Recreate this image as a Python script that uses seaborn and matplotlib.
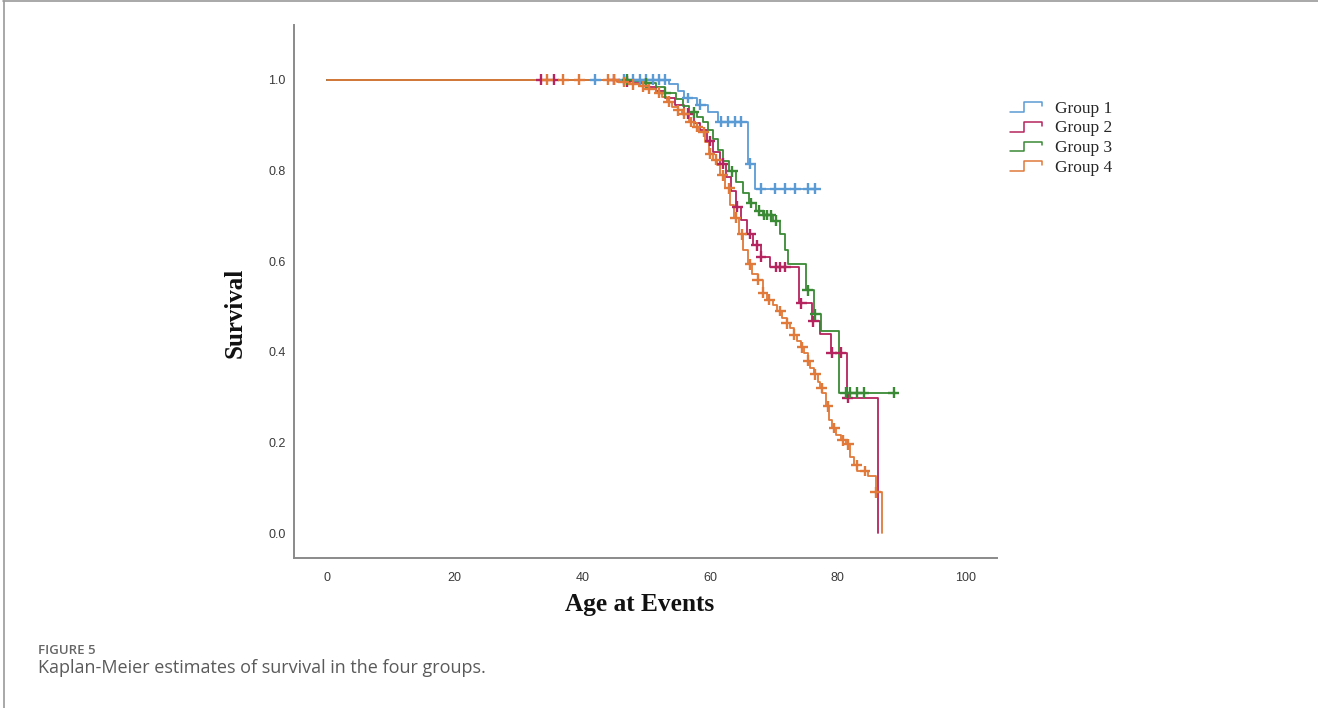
import numpy as np
import pandas as pd
import matplotlib
matplotlib.use('Agg')
import matplotlib.pyplot as plt
import seaborn as sns
from matplotlib.lines import Line2D
from matplotlib.legend_handler import HandlerBase

## curvas de Kaplan-Meier (idade no evento x sobrevivencia)

groups = ['Group 1', 'Group 2', 'Group 3', 'Group 4']
colors = ['#5b9bd5', '#b5245e', '#3a8a35', '#e0793a']

g1_t = [0, 53.5, 55, 56, 58, 59.7, 61.3, 66, 67.1]
g1_s = [1.0, 0.99, 0.975, 0.96, 0.945, 0.93, 0.908, 0.815, 0.76]
g1_end = 76.5
g1_cens = [42, 46.5, 48, 49, 50, 51, 52, 53, 56.5, 58.5, 61.7, 62.8, 63.9, 64.9,
           66.3, 68, 70.2, 71.8, 73.4, 75.4, 76.5]

g2_t = [0, 46, 48, 50, 51.5, 53, 54.5, 56, 57.5, 58.5, 59.5, 60.5, 61.5, 62.5,
        63.3, 64, 64.8, 65.8, 66.8, 68, 69.4, 73.9, 76, 77.2, 79, 81.4, 86.3]
g2_s = [1.0, 0.997, 0.993, 0.985, 0.975, 0.96, 0.945, 0.925, 0.905, 0.89, 0.865,
        0.84, 0.815, 0.785, 0.755, 0.72, 0.69, 0.66, 0.635, 0.61, 0.587, 0.507,
        0.467, 0.44, 0.398, 0.298, 0.0]
g2_end = 86.3
g2_cens = [33.5, 35.5, 45, 47, 56.5, 60, 62, 64.3, 66.3, 67.3, 68, 70.3, 71, 71.8,
           74.3, 76.2, 79.1, 80.5, 81.6]

g3_t = [0, 48, 50, 51.5, 53, 54.6, 55.7, 56.7, 58, 58.9, 59.7, 60.5, 61.3, 62, 63,
        64, 65.2, 66.1, 67.2, 68.3, 69.9, 70.9, 71.7, 72.3, 75, 76.3, 77.4, 80.2]
g3_s = [1.0, 0.997, 0.992, 0.985, 0.972, 0.957, 0.943, 0.928, 0.917, 0.907, 0.89,
        0.87, 0.845, 0.82, 0.798, 0.775, 0.75, 0.728, 0.711, 0.702, 0.689, 0.659,
        0.624, 0.593, 0.536, 0.483, 0.446, 0.31]
g3_end = 88.8
g3_cens = [47, 50, 53, 57.5, 63.5, 66.5, 67.7, 68.4, 69, 69.5, 70.3, 75.3, 76.5,
           81.3, 82, 83, 84.1, 88.8]

g4_t = [0, 45.5, 47.5, 49, 50.4, 51.5, 52.4, 53.2, 54, 55, 55.6, 56.7, 57.5, 58.3,
        59.2, 59.8, 60.5, 61.1, 61.6, 62.4, 63.2, 63.8, 64.6, 65.1, 66, 66.6, 67.5,
        68.3, 69, 69.8, 70.5, 71.3, 72, 72.6, 73.2, 73.7, 74.3, 74.8, 75.3, 75.7,
        76.3, 76.9, 77.3, 77.6, 78.2, 78.7, 79.2, 79.7, 80.5, 81.3, 81.9, 82.5,
        83.1, 84.7, 86, 87]
g4_s = [1.0, 0.995, 0.99, 0.986, 0.98, 0.972, 0.963, 0.952, 0.941, 0.933, 0.925,
        0.907, 0.896, 0.885, 0.863, 0.837, 0.824, 0.811, 0.789, 0.761, 0.724, 0.696,
        0.659, 0.624, 0.593, 0.572, 0.559, 0.53, 0.515, 0.504, 0.49, 0.474, 0.463,
        0.452, 0.438, 0.424, 0.41, 0.398, 0.38, 0.365, 0.35, 0.333, 0.32, 0.309,
        0.28, 0.25, 0.232, 0.217, 0.205, 0.196, 0.167, 0.15, 0.137, 0.126, 0.09, 0.0]
g4_end = 87
g4_cens = [34.5, 37, 39.5, 44, 45, 46.5, 48, 49.5, 50.5, 52, 53.5, 55, 56, 57, 58,
           59, 60, 61, 62, 63, 64, 65, 66.3, 67.5, 68.3, 69.3, 71, 72, 73.2, 74.5,
           75.4, 76.5, 77.5, 78.5, 79.5, 80.8, 81.7, 83, 84.3, 86]

x_ticks = [0, 20, 40, 60, 80, 100]
y_ticks = [0.0, 0.2, 0.4, 0.6, 0.8, 1.0]


def monta_dados():
    curvas = []
    marcas = []
    series = [(g1_t, g1_s, g1_end, g1_cens), (g2_t, g2_s, g2_end, g2_cens),
              (g3_t, g3_s, g3_end, g3_cens), (g4_t, g4_s, g4_end, g4_cens)]
    for nome, (t, s, fim, cens) in zip(groups, series):
        tt = list(t)
        ss = list(s)
        if fim > tt[-1]:
            tt.append(fim)
            ss.append(ss[-1])
        curvas.append(pd.DataFrame({'age': tt, 'surv': ss, 'group': nome}))
        idx = np.searchsorted(np.array(t), np.array(cens), side='right') - 1
        marcas.append(pd.DataFrame({'age': cens, 'surv': np.array(s)[idx], 'group': nome}))
    return pd.concat(curvas, ignore_index=True), pd.concat(marcas, ignore_index=True)


class StepHandler(HandlerBase):
    # simbolo de degrau usado pelo SPSS na legenda
    def create_artists(self, legend, orig_handle, xdescent, ydescent, width, height, fontsize, trans):
        xs = np.array([0, 0.45, 0.45, 1.0, 1.0]) * width - xdescent
        ys = np.array([0.05, 0.05, 0.85, 0.85, 0.55]) * height - ydescent
        ln = Line2D(xs, ys, color=orig_handle.get_color(), lw=1.1)
        ln.set_transform(trans)
        return [ln]


def plota_grafico(curvas, marcas):
    sns.set_style('white')
    fig = plt.figure(figsize=(13.18, 7.08), dpi=100)
    ax = fig.add_axes([0.2231, 0.2119, 0.5334, 0.7528])
    pal = dict(zip(groups, colors))

    sns.lineplot(data=curvas, x='age', y='surv', hue='group', palette=pal,
                 drawstyle='steps-post', estimator=None, sort=False,
                 linewidth=1.3, legend=False, ax=ax)
    sns.scatterplot(data=marcas, x='age', y='surv', hue='group', palette=pal,
                    marker='+', s=60, linewidth=1.7, legend=False, ax=ax, zorder=3)

    ax.set_xlim(-5.2, 105.0)
    ax.set_ylim(-0.055, 1.121)
    ax.set_xticks(x_ticks)
    ax.set_yticks(y_ticks)
    ax.set_xticklabels([str(v) for v in x_ticks])
    ax.set_yticklabels(['%.1f' % v for v in y_ticks])
    ax.tick_params(axis='both', labelsize=9, colors='#777777', length=2, width=0.8)
    ax.tick_params(axis='y', pad=4)
    ax.tick_params(axis='x', pad=8)
    for lab in ax.get_xticklabels() + ax.get_yticklabels():
        lab.set_color('#3a3a3a')
        lab.set_family('Liberation Sans')

    for lado in ['top', 'right']:
        ax.spines[lado].set_visible(False)
    for lado in ['left', 'bottom']:
        ax.spines[lado].set_color('#8a8a8a')
        ax.spines[lado].set_linewidth(1.4)

    ax.set_xlabel('Age at Events', fontsize=18.3, fontweight='bold', family='Liberation Serif', color='#111111')
    ax.set_ylabel('Survival', fontsize=18, fontweight='bold', family='Liberation Serif', color='#111111')
    ax.xaxis.set_label_coords(0.492, -0.088)
    ax.yaxis.set_label_coords(-0.084, 0.46)
    ax.xaxis.label.set_va('center')
    ax.yaxis.label.set_va('center')

    handles = [Line2D([], [], color=c) for c in colors]
    fig.legend(handles, groups, handler_map={Line2D: StepHandler()},
               loc='upper left', bbox_to_anchor=(994 / 1318, 1 - 85 / 708),
               frameon=False, handlelength=1.85, handleheight=0.7, handletextpad=0.75,
               labelspacing=0.2, prop={'family': 'Liberation Serif', 'size': 12.5})

    # moldura e legenda da figura
    fig.add_artist(Line2D([0.002, 1.0], [0.998, 0.998], color='#9a9a9a', lw=1.2))
    fig.add_artist(Line2D([0.003, 0.003], [0.0, 0.998], color='#9a9a9a', lw=1.2))
    fig.text(38 / 1318, 1 - 654 / 708, 'FIGURE 5', fontsize=9.5, color='#666666',
             family='Open Sans', fontweight='semibold', va='baseline')
    fig.text(38 / 1318, 1 - 673 / 708, 'Kaplan-Meier estimates of survival in the four groups.',
             fontsize=13, color='#5a5a5a', family='Open Sans', va='baseline')

    fig.savefig('out.png', dpi=100)


if __name__ == '__main__':
    curvas, marcas = monta_dados()
    plota_grafico(curvas, marcas)
